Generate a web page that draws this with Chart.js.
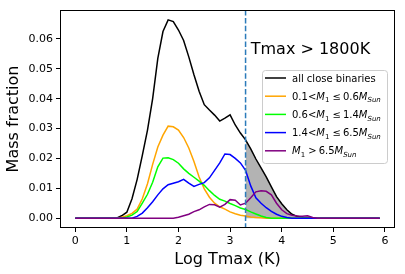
<!DOCTYPE html>
<html>
<head>
<meta charset="utf-8">
<script src="https://cdn.jsdelivr.net/npm/chart.js@4/dist/chart.umd.min.js"></script>
<style>
  html, body { margin: 0; padding: 0; background: #fff; }
</style>
</head>
<body>
<canvas id="massChart" width="405" height="274"></canvas>
<script>
// log Tmax bins (K)
const logTmax = [0.0, 0.1, 0.2, 0.3, 0.4, 0.5, 0.6, 0.7, 0.8, 0.9,
                 1.0, 1.1, 1.2, 1.3, 1.4, 1.5, 1.6, 1.7, 1.8, 1.9,
                 2.0, 2.1, 2.2, 2.3, 2.4, 2.5, 2.6, 2.7, 2.8, 2.9,
                 3.0, 3.1, 3.2, 3.3, 3.4, 3.5, 3.6, 3.7, 3.8, 3.9,
                 4.0, 4.1, 4.2, 4.3, 4.4, 4.5, 4.6, 4.7, 4.8, 4.9,
                 5.0, 5.1, 5.2, 5.3, 5.4, 5.5, 5.6, 5.7, 5.8, 5.9];

// mass fractions
const allBinaries = [0, 0, 0, 0, 0, 0, 0, 0, 0, 0.0008,
                     0.002, 0.0065, 0.013, 0.021, 0.0295, 0.040, 0.0535, 0.0625, 0.0664, 0.0658,
                     0.063, 0.0595, 0.054, 0.048, 0.0425, 0.038, 0.0362, 0.0345, 0.0325, 0.0335,
                     0.0346, 0.0312, 0.0285, 0.0262, 0.0232, 0.0198, 0.0168, 0.0138, 0.0105, 0.0072,
                     0.0048, 0.0028, 0.0013, 0.0006, 0.0003, 0.0002, 0, 0, 0, 0,
                     0, 0, 0, 0, 0, 0, 0, 0, 0, 0];
const m01to06 = [0, 0, 0, 0, 0, 0, 0, 0, 0, 0.0003,
                 0.0008, 0.0016, 0.003, 0.0065, 0.0115, 0.018, 0.0238, 0.0278, 0.0308, 0.0306,
                 0.0295, 0.027, 0.0235, 0.019, 0.0138, 0.0098, 0.007, 0.005, 0.0038, 0.003,
                 0.0021, 0.0015, 0.001, 0.0007, 0.0004, 0.0002, 0.0001, 0, 0, 0,
                 0, 0, 0, 0, 0, 0, 0, 0, 0, 0,
                 0, 0, 0, 0, 0, 0, 0, 0, 0, 0];
const m06to14 = [0, 0, 0, 0, 0, 0, 0, 0, 0, 0,
                 0.0004, 0.001, 0.0022, 0.005, 0.008, 0.012, 0.0172, 0.0201, 0.0202, 0.0196,
                 0.0184, 0.0165, 0.015, 0.0137, 0.0124, 0.011, 0.0092, 0.0076, 0.0063, 0.0057,
                 0.0049, 0.0042, 0.0034, 0.0029, 0.0021, 0.0014, 0.0007, 0.0002, 0, 0,
                 0, 0, 0, 0, 0, 0, 0, 0, 0, 0,
                 0, 0, 0, 0, 0, 0, 0, 0, 0, 0];
const m14to65 = [0, 0, 0, 0, 0, 0, 0, 0, 0, 0,
                 0, 0, 0.0006, 0.0017, 0.0035, 0.0055, 0.0078, 0.0098, 0.0112, 0.0117,
                 0.0122, 0.013, 0.0117, 0.0106, 0.0113, 0.0119, 0.0135, 0.016, 0.0185, 0.0215,
                 0.0213, 0.020, 0.0185, 0.016, 0.0108, 0.0068, 0.005, 0.0035, 0.0023, 0.0013,
                 0.0006, 0.0002, 0, 0, 0, 0, 0, 0, 0, 0,
                 0, 0, 0, 0, 0, 0, 0, 0, 0, 0];
const mAbove65 = [0, 0, 0, 0, 0, 0, 0, 0, 0, 0,
                  0, 0, 0, 0, 0, 0, 0, 0, 0, 0,
                  0.0003, 0.0008, 0.0013, 0.0022, 0.0028, 0.0038, 0.0046, 0.0045, 0.0037, 0.0046,
                  0.0062, 0.006, 0.0044, 0.005, 0.0068, 0.0088, 0.0092, 0.009, 0.0078, 0.005,
                  0.0028, 0.0015, 0.001, 0.0007, 0.0006, 0.0008, 0.0002, 0, 0, 0,
                  0, 0, 0, 0, 0, 0, 0, 0, 0, 0];

const tmaxCut = 3.3;            // dashed line, shaded region to the right
const noteText = 'Tmax > 1800K';
const noteAt = [3.4, 0.055];

// legend rows: [text, style] pieces, 'i' italic, 's' subscript
const legendRows = [
    [['all close binaries', '']],
    [['0.1<', ''], ['M', 'i'], ['1', 's'], [' \u2264\u2009', ''], ['0.6', ''], ['M', 'i'], ['Sun', 'is']],
    [['0.6<', ''], ['M', 'i'], ['1', 's'], [' \u2264\u2009', ''], ['1.4', ''], ['M', 'i'], ['Sun', 'is']],
    [['1.4<', ''], ['M', 'i'], ['1', 's'], [' \u2264\u2009', ''], ['6.5', ''], ['M', 'i'], ['Sun', 'is']],
    [['M', 'i'], ['1', 's'], [' >\u2009', ''], ['6.5', ''], ['M', 'i'], ['Sun', 'is']]
];
const seriesColors = ['#000000', '#ffa500', '#00ff00', '#0000ff', '#800080'];

const FONT = '"DejaVu Sans", sans-serif';

function pts(arr) {
    return logTmax.map((x, i) => ({ x: x, y: arr[i] }));
}
function line(label, arr, color) {
    return { label: label, data: pts(arr), borderColor: color, borderWidth: 1.5,
             pointRadius: 0, tension: 0, fill: false };
}

// shaded area under the total curve beyond the cut
const shaded = pts(allBinaries).filter(p => p.x >= tmaxCut - 1e-9);

function drawRich(ctx, pieces, x, y) {
    for (const [t, s] of pieces) {
        const sub = s.includes('s');
        const it = s.includes('i');
        ctx.font = (it ? 'italic ' : '') + (sub ? 7 : 10) + 'px ' + FONT;
        ctx.fillText(t, x, y + (sub ? 2.5 : 0));
        x += ctx.measureText(t).width;
    }
}

const overlay = {
    id: 'overlay',
    afterDatasetsDraw(chart) {
        const { ctx, chartArea: a, scales: { x, y } } = chart;
        ctx.save();
        // vertical dashed cut
        const cx = x.getPixelForValue(tmaxCut);
        ctx.strokeStyle = '#2b7bba';
        ctx.lineWidth = 1.5;
        ctx.setLineDash([5.5, 2.4]);
        ctx.beginPath();
        ctx.moveTo(cx, a.top);
        ctx.lineTo(cx, a.bottom);
        ctx.stroke();
        ctx.setLineDash([]);

        // frame
        ctx.strokeStyle = '#000';
        ctx.lineWidth = 1;
        ctx.strokeRect(a.left + 0.5, a.top + 0.5, a.right - a.left - 1, a.bottom - a.top - 1);

        // annotation
        ctx.fillStyle = '#000';
        ctx.font = '16px ' + FONT;
        ctx.textBaseline = 'alphabetic';
        ctx.fillText(noteText, x.getPixelForValue(noteAt[0]), y.getPixelForValue(noteAt[1]));

        // legend
        const bw = 125, bh = 93;
        const bx = a.right - 8 - bw, by = 70;
        ctx.fillStyle = 'rgba(255,255,255,0.8)';
        ctx.strokeStyle = '#cccccc';
        ctx.beginPath();
        ctx.roundRect(bx + 0.5, by + 0.5, bw, bh, 3);
        ctx.fill();
        ctx.stroke();
        legendRows.forEach((row, i) => {
            const ry = by + 8 + i * 18.2;
            ctx.strokeStyle = seriesColors[i];
            ctx.lineWidth = 1.5;
            ctx.beginPath();
            ctx.moveTo(bx + 3, ry);
            ctx.lineTo(bx + 24, ry);
            ctx.stroke();
            ctx.fillStyle = '#000';
            drawRich(ctx, row, bx + 30, ry + 3.6);
        });
        ctx.restore();
    }
};

const tickFont = { family: FONT, size: 11 };

new Chart(document.getElementById('massChart'), {
    type: 'line',
    data: {
        datasets: [
            line('M1 > 6.5 MSun', mAbove65, seriesColors[4]),
            line('1.4 < M1 <= 6.5 MSun', m14to65, seriesColors[3]),
            line('0.6 < M1 <= 1.4 MSun', m06to14, seriesColors[2]),
            line('0.1 < M1 <= 0.6 MSun', m01to06, seriesColors[1]),
            line('all close binaries', allBinaries, seriesColors[0]),
            { label: 'shaded', data: shaded, borderWidth: 0, pointRadius: 0,
              backgroundColor: 'rgba(128,128,128,0.6)', fill: 'origin', tension: 0 }
        ]
    },
    options: {
        responsive: false,
        animation: false,
        devicePixelRatio: 1,
        layout: { padding: { top: 10, right: 10, left: 0, bottom: 0 } },
        plugins: {
            legend: { display: false },
            tooltip: { enabled: false }
        },
        scales: {
            x: {
                type: 'linear',
                min: -0.295,
                max: 6.195,
                ticks: { stepSize: 1, includeBounds: false, color: '#000', font: tickFont,
                         padding: 3, maxRotation: 0, callback: v => String(v) },
                grid: { drawOnChartArea: false, tickLength: 4, tickColor: '#000' },
                border: { display: false },
                title: { display: true, text: 'Log Tmax (K)', color: '#000',
                         font: { family: FONT, size: 16 }, padding: { top: 0, bottom: 5 } },
                afterFit: s => { s.height = 46; }
            },
            y: {
                min: -0.0033,
                max: 0.0697,
                ticks: { stepSize: 0.01, includeBounds: false, color: '#000', font: tickFont,
                         padding: 3, callback: v => v.toFixed(2) },
                grid: { drawOnChartArea: false, tickLength: 4, tickColor: '#000' },
                border: { display: false },
                title: { display: true, text: 'Mass fraction', color: '#000',
                         font: { family: FONT, size: 16 }, padding: { top: 4, bottom: 0 } },
                afterFit: s => { s.width = 60; }
            }
        }
    },
    plugins: [overlay]
});
</script>
</body>
</html>
